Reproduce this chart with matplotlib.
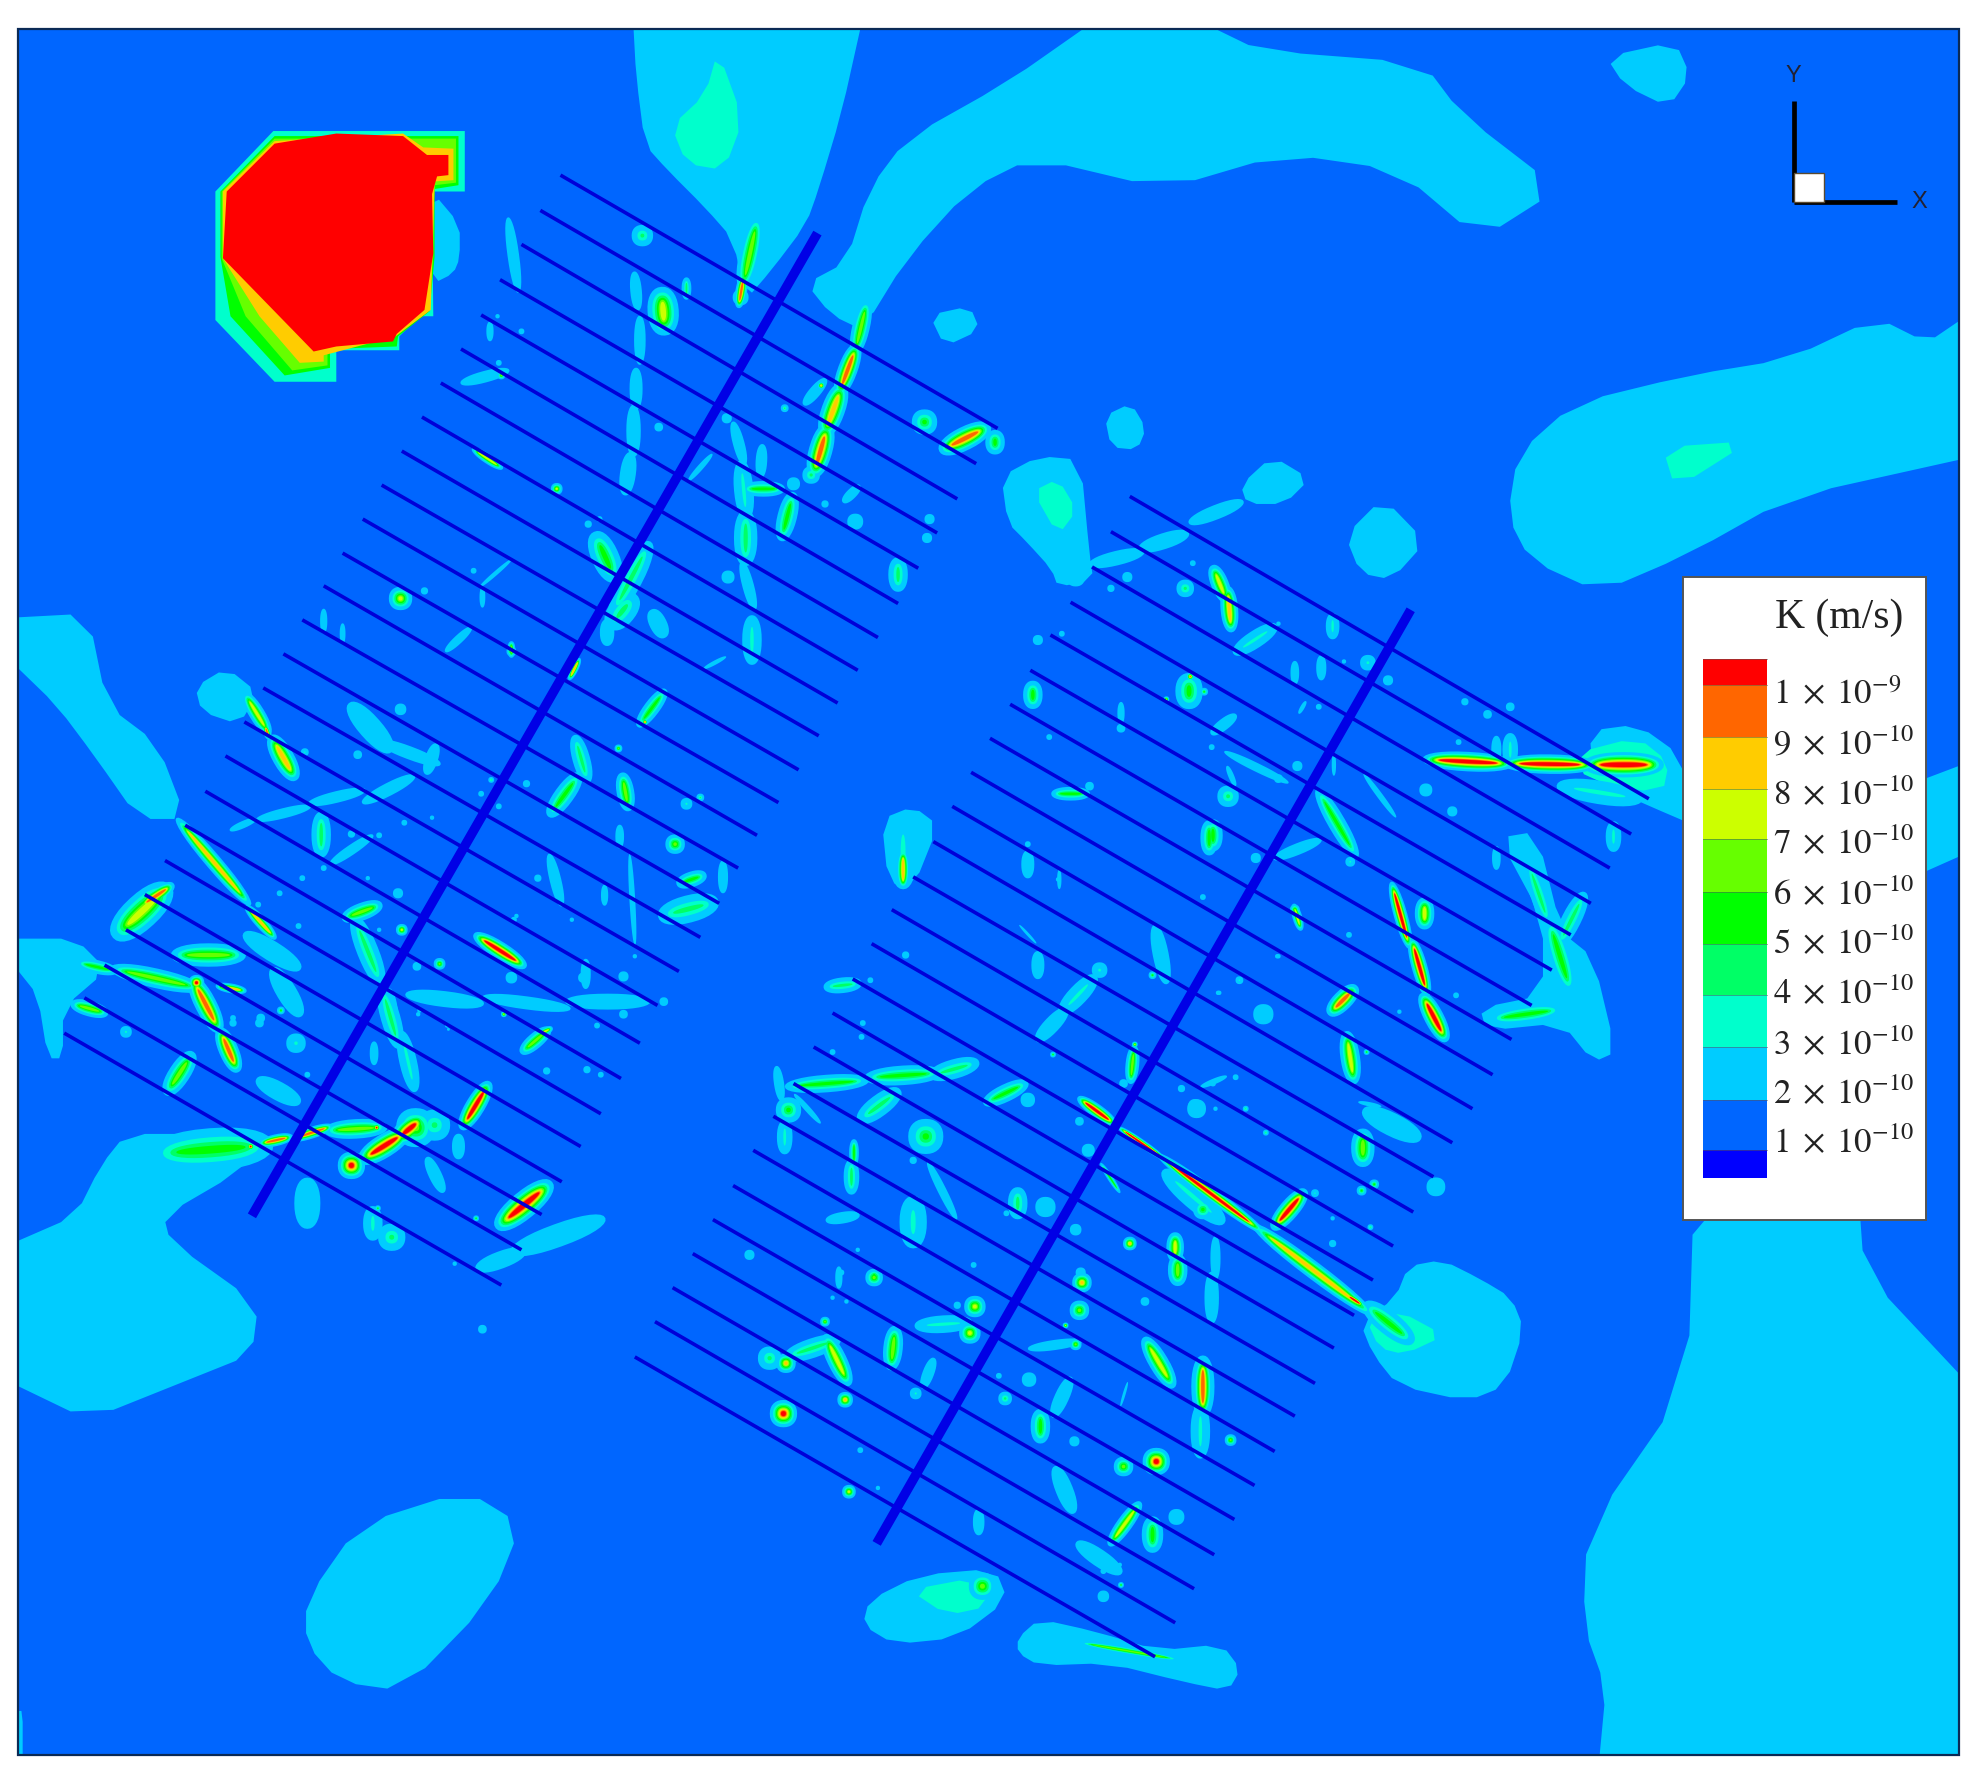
import math
import numpy as np
import matplotlib
matplotlib.use('Agg')
import matplotlib.pyplot as plt
from matplotlib.patches import Polygon, Rectangle

plt.rcParams['mathtext.fontset'] = 'stix'

# K level colours, index = level
levels = ['#0000FF', '#0066FF', '#00CCFF', '#00FFCC', '#00FF66', '#00FF00',
          '#66FF00', '#CCFF00', '#FFCC00', '#FF6600', '#FF0000']

# legend
legend_labels = ['1\\;\\times\\;10^{-9}', '9\\;\\times\\;10^{-10}', '8\\;\\times\\;10^{-10}', '7\\;\\times\\;10^{-10}',
                 '6\\;\\times\\;10^{-10}', '5\\;\\times\\;10^{-10}', '4\\;\\times\\;10^{-10}', '3\\;\\times\\;10^{-10}',
                 '2\\;\\times\\;10^{-10}', '1\\;\\times\\;10^{-10}']
legend_bounds = [523, 544, 585, 626, 666, 708, 749, 790, 831, 873, 913, 935]
legend_label_y = [551, 591, 631, 670, 710, 749, 789, 829, 868, 907]

# big K = 2e-10 areas (image coordinates of the 1568 wide view)
cyan_regions = [
    [(503,23),(683,23),(668,90),(650,150),(640,178),(612,215),(592,238),(582,190),(560,165),(530,135),(512,115),(505,60)],
    [(640,225),(672,208),(690,150),(720,110),(800,65),(860,23),(965,23),(1000,40),(1130,50),(1160,90),(1238,150),(1175,190),(1110,135),(1020,122),(925,150),(820,125),(770,150),(720,205),(685,262),(660,250)],
    [(1275,45),(1330,33),(1342,60),(1325,85),(1290,68)],
    [(738,250),(770,243),(778,262),(750,275)],
    [(877,330),(898,320),(910,340),(903,357),(882,355)],
    [(1555,255),(1530,272),(1490,252),(1420,285),(1340,298),(1250,320),(1205,360),(1197,410),(1215,445),(1270,470),(1340,440),(1420,395),(1555,365)],
    [(795,378),(825,362),(858,365),(865,440),(868,460),(840,466),(835,452),(815,430),(800,415)],
    [(985,385),(1010,362),(1040,380),(1020,400),(990,400)],
    [(1068,425),(1098,395),(1132,430),(1105,460),(1080,455)],
    [(14,490),(70,487),(85,560),(125,590),(148,650),(110,650),(75,600),(45,560),(14,530)],
    [(155,545),(180,530),(205,550),(190,575),(160,565)],
    [(14,745),(60,745),(85,770),(50,800),(50,840),(38,840),(30,790),(14,770)],
    [(14,985),(60,965),(80,925),(100,900),(160,900),(200,912),(190,930),(130,965),(135,985),(205,1035),(200,1075),(150,1095),(70,1127),(14,1100)],
    [(243,1270),(285,1210),(370,1183),(414,1210),(390,1270),(320,1342),(270,1335),(243,1305)],
    [(1345,940),(1475,940),(1480,1010),(1555,1090),(1555,1393),(1270,1393),(1275,1340),(1257,1290),(1260,1215),(1340,1100)],
    [(690,1270),(730,1250),(790,1245),(800,1270),(760,1300),(710,1305),(685,1290)],
    [(808,1300),(825,1285),(870,1295),(920,1310),(970,1305),(985,1325),(975,1342),(940,1335),(880,1320),(825,1322),(808,1312)],
    [(1080,1050),(1108,1030),(1118,1005),(1145,1000),(1175,1015),(1200,1030),(1210,1055),(1195,1100),(1165,1112),(1110,1100),(1090,1075)],
    [(1262,580),(1300,575),(1335,600),(1345,655),(1310,640),(1265,620)],
    [(1510,625),(1555,608),(1555,680),(1510,700)],
    [(1190,665),(1220,660),(1240,740),(1265,760),(1283,835),(1265,843),(1240,812),(1180,818),(1175,800),(1225,790),(1225,730)],
    [(700,650),(725,640),(745,655),(725,705),(705,700)],
    [(14,1358),(18,1358),(18,1393),(14,1393)],
    [(343,152),(365,178),(365,205),(360,217),(344,225),(340,190)],
]
teal_regions = [
    [(570,40),(590,95),(575,135),(545,130),(533,100),(560,75)],
    [(1320,355),(1390,350),(1330,388)],
    [(820,390),(840,380),(855,405),(840,425)],
    [(722,1262),(775,1252),(785,1275),(752,1282)],
    [(1085,1048),(1110,1040),(1147,1060),(1115,1075),(1095,1070)],
    [(1250,598),(1300,585),(1325,605),(1320,630),(1260,620)],
]

# the solid red block and its rings
block_teal = [(217,104),(369,104),(369,152),(343,152),(344,251),(333,251),(317,267),(317,278),(267,278),(267,303),(218,303),(171,254),(171,152)]
block_green = [(218,108),(364,108),(364,147),(345,150),(345,204),(341,247),(316,267),(315,275),(262,277),(262,292),(226,298),(183,251),(175,204),(175,152)]
block_lime = [(218,110),(362,110),(362,145),(345,147),(344,204),(340,247),(315,266),(260,280),(260,290),(232,294),(195,251),(176,205),(176,152)]
block_yellow = [(218,112),(320,106),(336,117),(360,118),(360,143),(345,144),(342,246),(314,267),(257,282),(257,287),(238,288),(206,251),(177,205),(177,152)]
block_red = [(218,114),(267,106),(320,108),(339,123),(356,123),(356,139),(347,140),(343,154),(344,201),(337,246),(315,265),(312,271),(267,275),(249,279),(177,205),(180,152)]

# survey lines
left_rib_x0 = [445,429,414,397,382,366,350,335,319,303,288,272,257,240,225,209,194,179,163,147,131,115,100,83,67,51]
left_rib_y0 = [139,167,194,222,250,277,304,331,358,385,412,439,465,492,519,546,573,600,628,655,683,710,738,766,792,820]
left_rib_x1 = [792,775,760,744,729,713,697,681,665,650,634,618,601,586,571,556,539,522,508,493,477,461,446,430,414,398]
left_rib_y1 = [340,368,396,423,451,479,506,532,558,584,611,637,663,689,717,744,771,798,828,856,884,910,938,964,992,1020]
right_rib_x0 = [897,882,867,850,834,818,802,786,771,756,741,725,708,692,677,661,646,630,614,598,582,566,550,534,520,504]
right_rib_y0 = [394,422,450,478,504,532,559,586,613,640,668,696,722,749,777,804,831,860,886,913,941,968,995,1022,1049,1077]
right_rib_x1 = [1309,1295,1278,1263,1247,1232,1216,1200,1185,1169,1153,1138,1122,1106,1090,1075,1059,1044,1028,1012,996,980,964,948,933,917]
right_rib_y1 = [634,662,689,717,742,770,798,825,853,880,907,934,962,989,1016,1044,1070,1098,1124,1152,1179,1206,1234,1261,1288,1315]
spine_x0 = [200, 696]
spine_y0 = [965, 1225]
spine_x1 = [649, 1120]
spine_y1 = [185, 484]

# small anomalies: x0, y0, x1, y1, width, peak level
left_blobs = [
    (404,177,411,228,8,2),(510,187,510,187,11,4),(504,220,506,242,8,2),(526,240,527,254,16,7),(508,255,508,285,8,2),
    (545,224,545,234,5,4),(505,297,505,320,9,2),(503,327,503,357,10,2),(500,365,497,387,11,2),(600,180,591,222,11,6),
    (590,222,587,240,6,9),(588,236,588,236,11,2),(687,245,680,275,9,6),(678,280,668,307,10,9),(666,313,657,338,12,8),
    (655,345,648,370,12,9),(644,377,644,377,9,4),(641,318,653,304,8,2),(652,306,652,306,4,8),(623,324,623,324,4,4),
    (734,335,734,335,13,5),(754,354,778,342,12,9),(790,349,790,353,10,5),(583,339,590,365,8,2),(605,357,604,375,8,2),
    (589,373,592,405,10,3),(595,388,617,388,8,5),(630,384,630,384,9,2),(628,398,622,422,10,5),(672,396,680,388,7,2),
    (655,400,655,400,5,2),(679,414,679,414,11,2),(738,412,738,412,7,2),(736,427,736,427,7,2),(592,414,592,440,12,4),
    (590,450,598,480,8,2),(578,458,578,458,9,2),(713,450,713,462,10,4),(597,496,597,520,10,3),(577,332,577,332,7,2),
    (523,339,523,339,6,2),(548,380,564,362,4,2),(442,388,442,388,6,7),(476,432,485,452,14,5),(467,416,467,416,5,2),
    (476,412,476,412,4,2),(378,358,396,370,5,7),(389,258,389,268,5,2),(414,263,414,263,4,2),(395,251,395,251,3,2),
    (370,303,400,295,8,2),(398,298,398,298,4,6),(396,288,396,288,4,2),(382,465,405,445,3,2),(490,480,512,438,12,4),
    (498,480,490,490,14,4),(520,490,525,500,12,2),(482,497,482,507,10,2),(406,517,406,517,5,6),
    (318,475,318,475,12,7),(337,469,337,469,5,2),(376,453,376,453,4,2),(383,468,383,480,4,2),(356,515,372,500,6,2),
    (406,512,406,519,4,6),(453,537,459,525,4,8),(560,530,575,522,3,2),(510,572,525,552,8,5),(512,573,512,573,3,9),
    (491,594,491,594,4,6),(458,590,465,615,9,4),(440,642,456,620,10,5),(495,620,498,637,9,6),(545,638,545,638,6,3),
    (556,633,556,633,4,4),(536,670,536,670,10,6),(492,658,492,670,6,2),(500,680,504,748,4,2),(574,687,574,705,7,2),
    (543,700,555,696,8,5),(533,725,560,718,14,4),(437,682,445,715,8,2),(427,697,427,697,5,2),(480,705,480,716,5,2),
    (410,727,410,727,3,2),(504,759,504,759,3,2),(382,745,412,764,9,10),(331,767,331,767,6,2),(349,765,349,765,6,6),
    (406,776,406,776,8,2),(465,765,465,781,7,2),(495,775,495,775,7,2),(328,790,378,796,11,2),(388,792,448,800,9,2),
    (455,795,510,795,11,2),(495,805,495,805,6,2),(527,795,527,795,6,2),(400,805,400,805,3,7),(305,790,315,825,10,4),
    (333,802,333,802,3,2),(474,814,474,814,4,2),(430,820,436,817,4,7),(355,814,355,814,3,2),
    (197,555,211,578,8,7),(211,578,213,584,4,9),(219,591,231,612,11,8),(242,597,242,597,4,3),(257,486,257,500,5,2),
    (272,497,272,509,4,2),(283,565,305,590,16,2),(305,590,345,605,9,2),(340,610,345,595,9,2),(318,563,318,563,8,2),
    (284,599,284,599,6,2),(292,635,325,618,9,2),(249,637,286,628,8,2),(207,650,243,641,7,2),(185,658,201,651,5,2),
    (255,652,255,673,10,4),(265,684,293,665,7,2),(279,662,279,662,5,2),(301,663,301,663,4,2),(321,653,321,653,4,2),
    (257,689,257,689,4,2),(240,697,240,697,4,2),(222,709,222,709,4,2),(205,718,205,718,4,2),(343,649,343,649,3,2),
    (418,622,418,622,5,2),(396,640,396,640,4,2),(382,630,382,630,4,2),(390,619,390,619,3,4),(316,709,316,709,7,2),
    (292,697,292,697,3,2),(144,654,195,714,8,8),(198,722,216,742,6,8),(200,745,232,765,14,2),(220,775,235,800,14,2),
    (223,802,223,802,4,5),(207,808,207,808,6,2),(185,808,185,808,4,2),(278,727,297,720,9,6),(237,735,237,735,4,2),
    (284,735,300,775,11,4),(319,738,319,738,6,7),(301,738,301,738,3,2),(100,735,125,712,18,7),(115,717,133,705,8,9),
    (103,737,103,737,6,4),(66,765,88,770,7,5),(95,770,153,783,10,6),(145,758,186,758,12,6),(156,780,156,780,8,10),
    (156,783,171,812,11,9),(177,823,186,844,10,9),(175,783,192,786,5,8),(62,798,80,803,8,6),(100,819,100,819,6,3),
    (136,862,149,842,11,6),(210,860,232,872,13,2),(206,812,206,812,6,2),(185,812,185,812,5,2),(235,828,235,828,10,3),
    (244,853,244,853,4,2),(297,830,297,842,6,2),(309,790,312,820,10,2),(320,825,328,860,9,3),(332,805,332,805,3,2),
    (356,817,356,817,2,2),(418,832,432,820,8,6),(434,850,434,850,5,2),(466,849,466,849,5,2),(477,853,477,853,4,2),
    (385,865,370,890,10,10),(364,905,364,915,9,2),(330,892,320,900,12,10),(330,895,330,895,20,6),(317,902,293,917,12,10),
    (279,925,279,925,14,10),(299,895,299,895,4,10),(265,897,300,895,10,6),(235,903,260,895,6,9),(210,907,228,903,6,9),
    (199,910,199,910,4,10),(135,915,200,910,22,5),(341,923,350,942,9,2),(402,968,430,945,14,10),(244,945,244,965,18,2),
    (378,967,378,967,3,5),(296,965,296,977,10,3),(311,982,311,982,14,4),(300,959,300,959,3,5),(414,991,472,970,16,2),
    (384,1005,411,995,12,2),(361,1003,361,1003,3,2),(408,730,408,730,4,2),(454,730,454,730,3,2),(480,714,480,714,4,2),
    (463,776,463,776,7,2),(345,893,345,893,16,4),(383,1055,383,1055,6,2),
]
right_blobs = [
    (965,455,972,472,9,7),(975,472,977,495,9,8),(941,467,941,467,9,4),(882,467,882,467,5,2),(895,458,895,458,7,2),
    (949,413,982,400,10,2),(910,434,938,425,11,2),(870,447,903,439,10,2),(854,458,854,458,13,2),(947,447,947,447,4,2),
    (985,515,1008,500,9,3),(1015,495,1015,495,3,2),(1058,492,1058,502,7,3),(1086,526,1086,526,8,3),(1102,540,1102,540,7,2),
    (1028,528,1028,540,6,2),(1049,524,1049,536,7,2),(1036,558,1032,565,3,2),(1047,561,1047,561,4,2),(1067,525,1067,525,3,2),
    (944,545,944,552,14,5),(945,537,945,537,4,9),(956,549,956,549,4,5),(926,555,926,555,3,7),(890,560,890,572,5,2),
    (890,578,890,578,6,2),(965,580,978,570,8,2),(962,593,962,593,4,2),(833,585,833,585,4,2),(824,508,824,508,7,2),
    (843,503,843,503,4,2),(820,548,820,555,10,5),(975,598,1020,620,6,2),(1015,618,1015,618,6,2),(1030,608,1030,608,7,2),
    (1059,600,1059,614,3,2),(1084,616,1107,647,4,2),(1132,627,1132,627,9,2),(1153,644,1153,644,7,2),(975,610,980,622,4,2),
    (975,632,975,632,11,4),(1049,632,1074,675,9,5),(1072,684,1072,684,5,3),(865,624,865,624,6,2),(840,630,860,630,7,5),
    (960,658,960,672,9,5),(1015,680,1045,668,8,2),(997,681,997,681,7,2),(955,712,955,712,4,2),(1028,721,1032,735,5,7),
    (1071,742,1071,742,4,2),(1015,759,1015,759,3,2),(840,698,840,698,3,2),(918,740,925,775,11,2),(873,770,873,770,8,3),
    (1106,705,1118,748,7,10),(1122,750,1132,785,8,10),(1132,795,1145,820,10,10),(1131,720,1131,730,10,7),
    (1137,603,1194,606,10,10),(1201,606,1260,607,10,10),(1267,607,1311,607,13,10),(1245,625,1295,633,12,3),
    (1163,557,1163,557,5,2),(1181,567,1181,567,6,2),(1199,561,1199,561,6,2),(1158,589,1158,589,4,2),(1188,588,1188,602,7,2),
    (1199,588,1199,602,8,3),(1281,658,1281,670,8,3),(1188,675,1188,687,6,2),(1215,690,1228,728,9,4),(1240,745,1255,715,10,4),
    (1232,738,1245,780,12,5),(1060,800,1072,788,10,9),(968,788,968,788,3,2),(1111,803,1111,803,3,2),(1156,790,1156,790,4,2),
    (1070,826,1074,853,10,7),(1085,835,1085,835,3,5),(1190,808,1233,802,10,5),(955,862,972,855,4,2),(950,880,950,880,13,2),
    (965,880,965,880,3,2),(989,880,989,880,3,4),(1005,899,1005,899,3,4),(1003,805,1003,805,14,2),(981,855,981,855,4,2),
    (1080,875,1095,878,3,2),(1090,885,1120,900,16,2),(1082,905,1082,917,12,6),(1140,942,1140,942,13,2),(1091,940,1091,940,5,5),
    (1081,945,1081,945,5,5),(1015,970,1032,950,10,10),(1044,947,1044,947,4,3),(1058,967,1058,967,3,2),(1088,974,1088,974,3,4),
    (1058,987,1058,987,5,2),(860,874,882,890,7,10),(890,896,923,919,4,10),(923,919,1000,976,7,10),(1000,976,1085,1040,9,8),
    (1071,1029,1080,1035,4,10),(1090,1040,1115,1060,12,5),(930,935,965,965,12,3),(955,960,955,960,10,5),
    (717,660,717,695,14,3),(717,680,717,700,7,8),(816,680,816,692,9,2),(816,670,816,670,4,2),(841,692,841,704,3,2),
    (963,658,963,668,10,5),(1028,722,1028,722,5,6),(915,774,915,774,4,5),(824,760,824,772,9,2),(719,758,719,758,5,2),
    (810,735,822,748,2,2),(847,799,865,780,10,3),(827,822,843,805,11,2),(901,829,901,829,3,7),(900,835,898,855,7,6),
    (892,860,892,860,6,2),(836,837,836,837,3,5),(864,913,864,913,9,2),(857,890,857,890,6,2),(949,878,949,878,10,2),
    (938,864,938,864,5,2),(963,860,963,860,4,2),(984,778,984,778,4,3),(967,788,967,788,3,2),(1014,759,1014,759,3,2),
    (660,783,678,781,8,4),(691,778,691,778,4,2),(685,812,685,812,4,2),(684,823,684,823,4,2),(661,835,661,835,4,2),
    (617,850,620,870,7,2),(630,862,683,858,9,5),(694,855,740,852,10,5),(745,852,770,845,10,4),(626,881,626,881,13,5),
    (632,870,650,890,4,2),(623,895,623,910,8,3),(688,885,708,870,11,4),(735,902,735,902,18,5),(725,921,725,921,5,2),
    (738,925,758,965,6,2),(678,908,678,922,5,5),(676,926,676,942,8,4),(660,968,678,965,8,2),(725,960,725,980,14,3),
    (773,1004,773,1004,4,2),(787,873,810,862,9,5),(816,873,816,873,10,2),(808,950,808,960,10,4),(830,958,830,958,14,2),
    (799,963,799,963,4,2),(854,976,854,976,8,2),(897,987,897,987,7,8),(933,985,933,995,9,7),(935,1003,935,1013,10,6),
    (965,985,965,1012,7,2),(858,1010,858,1010,7,2),(694,1012,694,1012,6,5),(668,1010,668,1010,4,2),(681,992,681,992,3,2),
    (875,925,888,945,3,5),(595,996,595,996,7,2),(666,1008,666,1020,5,2),(661,1030,661,1030,3,2),(672,1033,672,1033,3,2),
    (694,1014,694,1014,9,6),(760,1036,760,1036,5,2),(774,1037,774,1037,11,7),(770,1058,770,1058,11,7),(733,1052,765,1050,9,3),
    (710,1060,708,1080,10,6),(740,1082,734,1098,8,2),(727,1106,727,1106,6,3),(655,1049,655,1049,5,6),(658,1066,671,1093,10,7),
    (671,1111,671,1111,8,8),(630,1075,660,1065,10,4),(611,1078,611,1078,12,4),(624,1082,624,1082,10,8),(622,1122,622,1122,14,10),
    (683,1151,683,1151,4,2),(674,1184,674,1184,7,7),(697,1181,697,1181,3,2),(777,1202,777,1214,8,2),(793,1092,793,1092,4,2),
    (817,1095,817,1095,10,2),(798,1110,798,1110,7,4),(838,1120,848,1098,10,2),(826,1126,826,1138,10,5),(853,1144,853,1144,7,2),
    (840,1170,850,1195,12,2),(859,1018,859,1018,10,8),(857,1040,857,1040,10,6),(846,1052,846,1052,3,7),(854,1067,854,1067,6,6),
    (820,1070,855,1065,7,2),(912,1068,928,1095,10,7),(895,1098,890,1115,2,2),(955,1085,955,1116,10,9),(955,1085,955,1116,16,2),
    (953,1122,953,1150,10,3),(977,1143,977,1143,6,6),(918,1160,918,1160,14,10),(892,1164,892,1164,10,6),(884,1222,902,1197,8,7),
    (915,1212,915,1224,11,5),(934,1204,934,1204,11,2),(860,1228,885,1245,12,2),(889,1242,889,1242,3,2),(876,1247,876,1247,4,2),
    (876,1267,876,1267,8,2),(890,1258,890,1258,3,5),(909,1033,909,1033,6,2),(962,1015,962,1045,10,2),(780,1259,780,1259,14,6),
    (859,1304,934,1317,4,6),
]


def round_corners(pts):
    # corner cutting, the contours in the picture are soft. Points on the frame stay put
    out = []
    n = len(pts)
    for i in range(n):
        x, y = pts[i]
        if x in (14, 1555) or y in (23, 1393):
            out.append((x, y))
            continue
        px, py = pts[i - 1]
        nx, ny = pts[(i + 1) % n]
        out.append((0.75 * x + 0.25 * px, 0.75 * y + 0.25 * py))
        out.append((0.75 * x + 0.25 * nx, 0.75 * y + 0.25 * ny))
    return out


theta = np.linspace(0, 2 * np.pi, 33)[:-1]


def add_blob(ax, x0, y0, x1, y1, w, peak):
    dist = math.hypot(x1 - x0, y1 - y0)
    ang = math.atan2(y1 - y0, x1 - x0)
    grow = 1.15 if peak == 2 else 1.55
    for k in range(2, peak + 1):
        f = 1.0 if peak == 2 else 1 - 0.82 * ((k - 2) / (peak - 2)) ** 0.6
        wk = w * f * grow
        a = (dist * (0.7 + 0.3 * f) + wk) / 2
        b = wk / 2
        c, s = np.cos(theta), np.sin(theta)
        ex = a * np.sign(c) * np.abs(c) ** 0.9
        ey = b * np.sign(s) * np.abs(s) ** 0.9
        px = (x0 + x1) / 2 + ex * math.cos(ang) - ey * math.sin(ang)
        py = (y0 + y1) / 2 + ex * math.sin(ang) + ey * math.cos(ang)
        ax.add_patch(Polygon(np.column_stack([px, py]), facecolor=levels[k], edgecolor='none', zorder=2 + k * 0.01))


fig = plt.figure(figsize=(19.75, 17.79), dpi=100)
ax = fig.add_axes([0, 0, 1, 1])
ax.set_xlim(0, 1568)
ax.set_ylim(1412, 0)
ax.axis('off')

# background and frame
ax.add_patch(Rectangle((14, 23), 1541, 1370, facecolor=levels[1], edgecolor='none', zorder=0))

for region in cyan_regions:
    ax.add_patch(Polygon(round_corners(region), facecolor=levels[2], edgecolor='none', zorder=1))
for region in teal_regions:
    ax.add_patch(Polygon(round_corners(region), facecolor=levels[3], edgecolor='none', zorder=1.1))

for pts, col in zip([block_teal, block_green, block_lime, block_yellow, block_red],
                    [levels[3], levels[5], levels[6], levels[8], levels[10]]):
    ax.add_patch(Polygon(pts, facecolor=col, edgecolor='none', zorder=1.5))

for blob in left_blobs + right_blobs:
    add_blob(ax, *blob)

# ribs and spines
for x0, y0, x1, y1 in zip(left_rib_x0 + right_rib_x0, left_rib_y0 + right_rib_y0,
                          left_rib_x1 + right_rib_x1, left_rib_y1 + right_rib_y1):
    ax.plot([x0, x1], [y0, y1], color='#0000D8', lw=2.6, solid_capstyle='butt', zorder=4)
for x0, y0, x1, y1 in zip(spine_x0, spine_y0, spine_x1, spine_y1):
    ax.plot([x0, x1], [y0, y1], color='#0000E6', lw=6.8, solid_capstyle='butt', zorder=5)

ax.add_patch(Rectangle((14, 23), 1541, 1370, facecolor='none', edgecolor='#0B2A55', lw=1.6, zorder=6))

# axis triad
ax.plot([1424, 1424], [80, 160], color='black', lw=3.4, solid_capstyle='butt', zorder=7)
ax.plot([1424, 1506], [160, 160], color='black', lw=3.4, solid_capstyle='butt', zorder=7)
ax.add_patch(Rectangle((1424, 137), 24, 23, facecolor='white', edgecolor='#5A4A30', lw=1, zorder=8))
ax.text(1424, 60, 'Y', fontsize=17, color='#222233', family='Liberation Sans', ha='center', va='center', zorder=8)
ax.text(1524, 160, 'X', fontsize=17, color='#222233', family='Liberation Sans', ha='center', va='center', zorder=8)

# legend
ax.add_patch(Rectangle((1336, 458), 193, 510, facecolor='white', edgecolor='#555555', lw=1.4, zorder=9))
ax.text(1460, 490, 'K (m/s)', fontsize=30, family='Liberation Serif', color='#222222', ha='center', va='center', zorder=10)
bar_colors = levels[::-1]
for top, bottom, col in zip(legend_bounds[:-1], legend_bounds[1:], bar_colors):
    ax.add_patch(Rectangle((1352, top), 51, bottom - top, facecolor=col, edgecolor='none', zorder=10))
    ax.plot([1352, 1403], [top, top], color='#555555', lw=0.6, alpha=0.6, zorder=11)
for label, y in zip(legend_labels, legend_label_y):
    ax.text(1408, y, '$' + label + '$', fontsize=25, color='#222222', ha='left', va='center', zorder=10)

fig.savefig('out.png', dpi=100, facecolor='white')
